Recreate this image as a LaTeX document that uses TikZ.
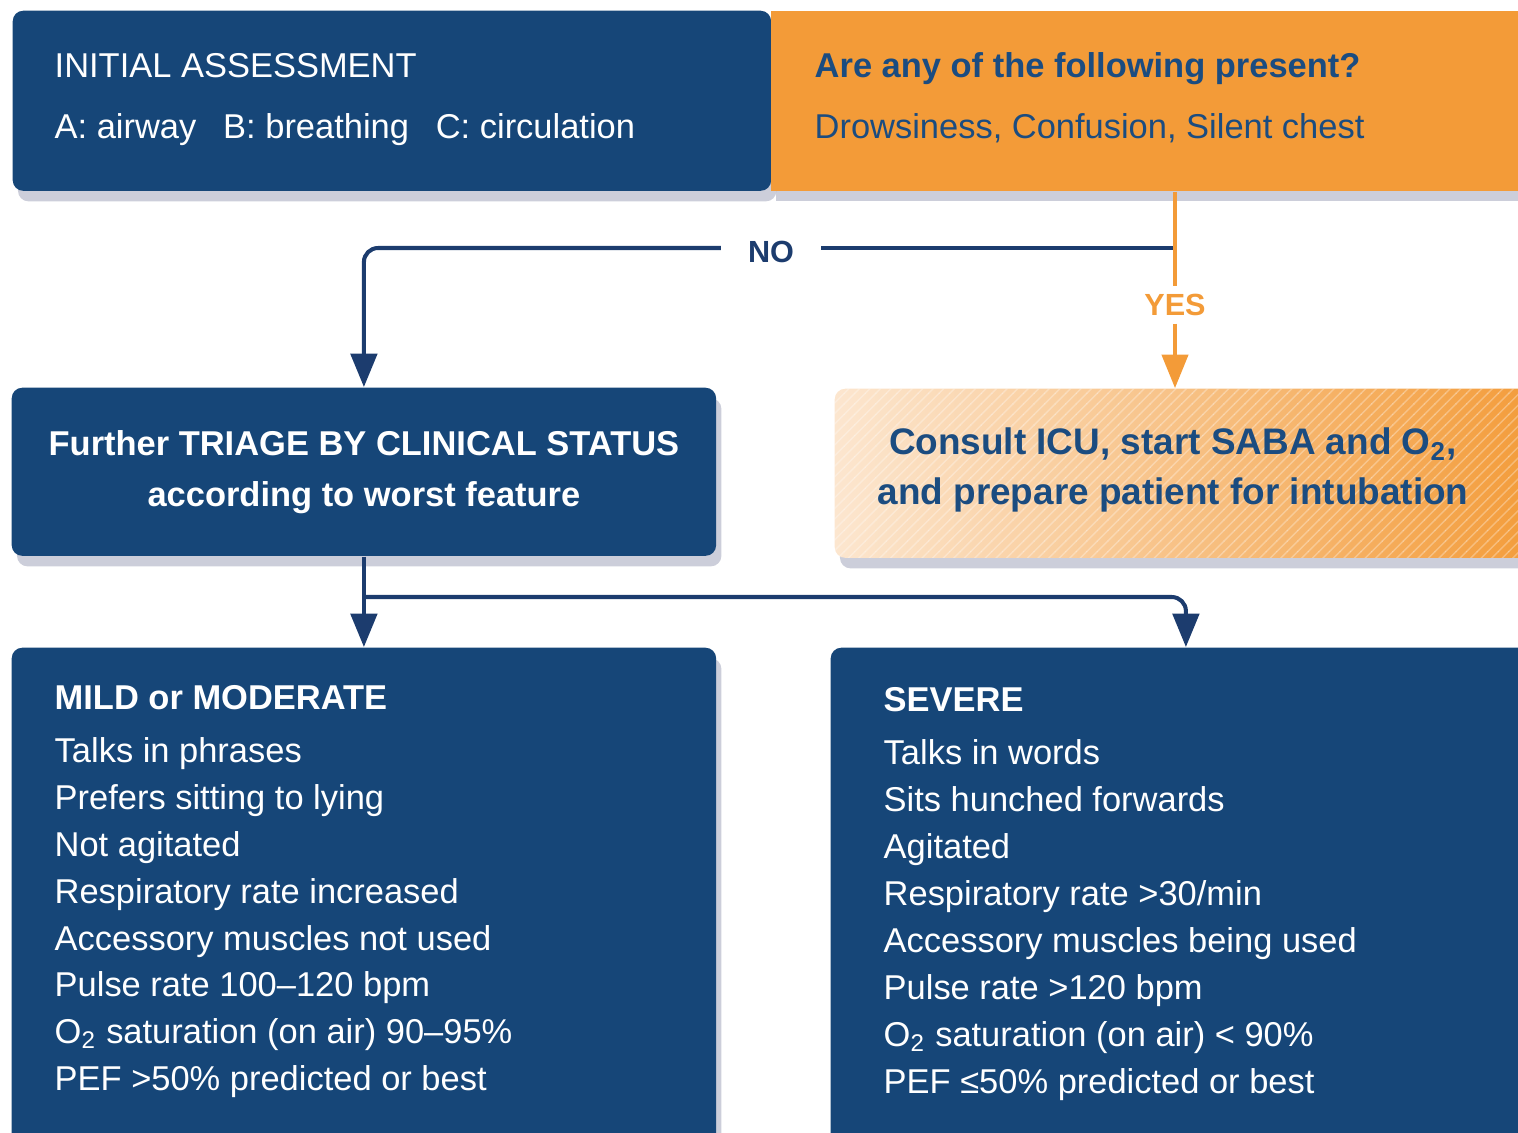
\documentclass[tikz,border=0pt]{standalone}
\usepackage{fontspec}
\setmainfont{Liberation Sans}
\usetikzlibrary{arrows.meta,positioning,shadows,patterns}

\definecolor{boxblue}{HTML}{164678}
\definecolor{lineblue}{HTML}{1C3C6E}
\definecolor{alertorange}{HTML}{F39B38}
\definecolor{inkblue}{HTML}{1B4C80}
\definecolor{peach}{HTML}{FCE6CF}
\definecolor{shadowgray}{HTML}{9A9DB5}

\begin{document}
\begin{tikzpicture}[x=0.01cm,y=-0.01cm,>={Triangle[width=7.5pt,length=9.5pt]},
	panel/.style={rectangle,anchor=north west,inner sep=0pt,fill=boxblue,rounded corners=3pt,
		drop shadow={shadow xshift=1.5pt,shadow yshift=-3pt,fill=shadowgray,opacity=0.5}},
	bodytext/.style={anchor=base west,inner sep=0pt,text=white,font=\fontsize{9.8}{12}\selectfont},
	headtext/.style={bodytext,font=\fontsize{9.8}{12}\selectfont\bfseries},
	answer/.style={font=\fontsize{8.7}{10}\selectfont\bfseries,inner sep=2pt},
	flow/.style={draw=lineblue,line width=1.15pt},
	yesflow/.style={draw=alertorange,line width=0.9pt}]
	\useasboundingbox (0,0) rectangle (1518,1132);
	\clip (0,0) rectangle (1518,1132);

	\node[panel,minimum width=7.58cm,minimum height=1.8cm] (assess) at (12,10) {};
	\node[panel,fill=alertorange,rounded corners=0pt,minimum width=7.7cm,minimum height=1.8cm] (query) at (770,10) {};
	\node[bodytext] (assesstitle) at (54,77) {INITIAL ASSESSMENT};
	\node[bodytext] (abc) at (54,138) {A: airway \enspace B: breathing \enspace C: circulation};
	\node[headtext,text=inkblue] (querytitle) at (814,77) {Are any of the following present?};
	\node[bodytext,text=inkblue] (querylist) at (814,138) {Drowsiness, Confusion, Silent chest};

	\node[panel,minimum width=7.04cm,minimum height=1.68cm,text=white,align=center,
		font=\fontsize{9.8}{14.5}\selectfont\bfseries] (triage) at (11,387)
		{Further TRIAGE BY CLINICAL STATUS\\according to worst feature};
	\node[panel,fill=none,left color=peach,right color=alertorange,minimum width=7.1cm,minimum height=1.69cm,
		postaction={opacity=0.3,pattern=north east lines,pattern color=white}] (consult) at (834,388) {};
	\node[font=\fontsize{10.5}{14}\selectfont\bfseries,text=inkblue,align=center] (consulttext) at (1173,470)
		{Consult ICU, start SABA and O\textsubscript{2},\\and prepare patient for intubation};

	\node[answer,text=alertorange] (yeslabel) at (1175,305) {YES};
	\node[answer,text=lineblue,inner xsep=7.5pt] (nolabel) at (771,252) {NO};
	\coordinate (split) at (yeslabel |- 0,248);
	\draw[flow] (split) -- (split -| nolabel.east);
	\draw[flow,->,rounded corners=4pt] (split -| nolabel.west) -| (triage.north);
	\draw[yesflow] (query.south -| yeslabel) -- (yeslabel);
	\draw[yesflow,->] (yeslabel) -- (yeslabel |- consult.north);

	\node[panel,minimum width=7.04cm,minimum height=5.2cm] (mild) at (11,647) {};
	\node[panel,minimum width=7.1cm,minimum height=5.2cm] (severe) at (830,647) {};
	\draw[flow,->] (triage.south) -- (mild.north);
	\coordinate (branch) at (triage.south |- 0,597);
	\draw[flow,->,rounded corners=4pt] (branch) -| (severe.north);

	\node[headtext] (mildhead) at (54,709) {MILD or MODERATE};
	\foreach \feature [count=\i] in {Talks in phrases, Prefers sitting to lying, Not agitated,
		Respiratory rate increased, Accessory muscles not used, Pulse rate 100--120 bpm,
		O\textsubscript{2} saturation (on air) 90--95\%, PEF >50\% predicted or best}
		\node[bodytext] (mild\i) at (54,{716+46.8*\i}) {\feature};

	\node[headtext] (severehead) at (883,711) {SEVERE};
	\foreach \feature [count=\i] in {Talks in words, Sits hunched forwards, Agitated,
		Respiratory rate >30/min, Accessory muscles being used, Pulse rate >120 bpm,
		O\textsubscript{2} saturation (on air) < 90\%, PEF ≤50\% predicted or best}
		\node[bodytext] (severe\i) at (883,{717+47*\i}) {\feature};
\end{tikzpicture}
\end{document}
